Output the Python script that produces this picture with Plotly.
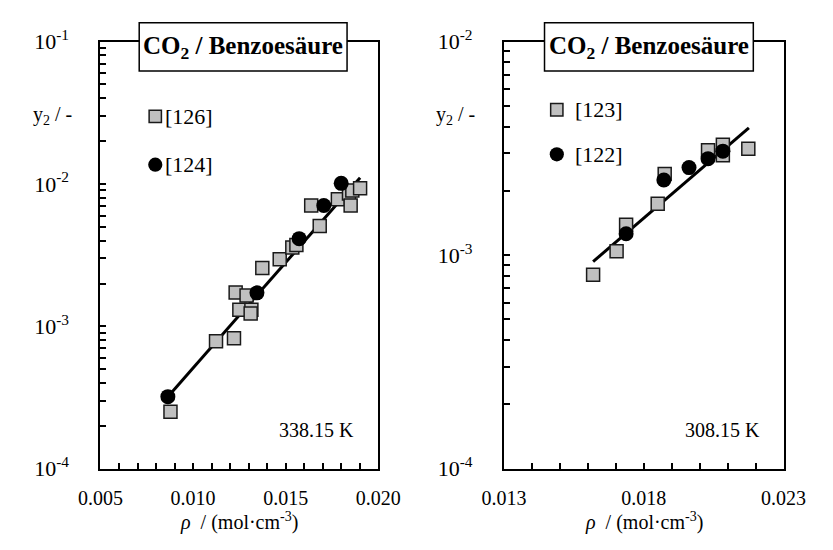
import plotly.graph_objects as go

# ---- 338.15 K ----
rho_126 = [0.00878, 0.01124, 0.01221, 0.01230, 0.01289, 0.01250, 0.01315, 0.01311,
           0.01374, 0.01468, 0.01536, 0.01558, 0.01684, 0.01638, 0.01782, 0.01842,
           0.01860, 0.01902, 0.01851]
y2_126 = [2.52e-4, 7.86e-4, 8.27e-4, 1.73e-3, 1.65e-3, 1.31e-3, 1.31e-3, 1.23e-3,
          2.57e-3, 2.96e-3, 3.58e-3, 3.73e-3, 5.07e-3, 7.06e-3, 7.82e-3, 8.57e-3,
          9.00e-3, 9.35e-3, 7.06e-3]
rho_124 = [0.00864, 0.01345, 0.01573, 0.01706, 0.01800]
y2_124 = [3.21e-4, 1.72e-3, 4.13e-3, 7.06e-3, 1.01e-2]
fit1_rho = [0.00864, 0.01902]
fit1_y2 = [3.21e-4, 1.107e-2]

# ---- 308.15 K ----
rho_123 = [0.01619, 0.01703, 0.01737, 0.01850, 0.01875, 0.02030, 0.02083, 0.02083, 0.02174]
y2_123 = [8.09e-4, 1.044e-3, 1.39e-3, 1.74e-3, 2.40e-3, 3.10e-3, 3.29e-3, 2.94e-3, 3.15e-3]
rho_122 = [0.01737, 0.01872, 0.01962, 0.02030, 0.02083]
y2_122 = [1.26e-3, 2.25e-3, 2.57e-3, 2.83e-3, 3.07e-3]
fit2_rho = [0.01619, 0.02176]
fit2_y2 = [9.33e-4, 3.94e-3]

x1_ticks = [0.005, 0.010, 0.015, 0.020]
x1_labels = ["0.005", "0.010", "0.015", "0.020"]
x2_ticks = [0.013, 0.018, 0.023]
x2_labels = ["0.013", "0.018", "0.023"]
y1_ticks = [1e-4, 1e-3, 1e-2, 1e-1]
y1_labels = ["10<sup>-4</sup>", "10<sup>-3</sup>", "10<sup>-2</sup>", "10<sup>-1</sup>"]
y2_ticks = [1e-4, 1e-3, 1e-2]
y2_labels = ["10<sup>-4</sup>", "10<sup>-3</sup>", "10<sup>-2</sup>"]

title_text = "<b>CO<sub>2</sub> / Benzoesäure</b>"
xtitle_text = "<i>ρ</i>  / (mol·cm<sup>-3</sup>)"
legend1 = ["[126]", "[124]"]
legend2 = ["[123]", "[122]"]
temp1 = "338.15 K"
temp2 = "308.15 K"

FONT = "Liberation Serif, Times New Roman, serif"
GRAY = "#c0c0c0"
EDGE = "#1a1a1a"

W, H = 833, 550
dom1 = [82 / W, 376 / W]
dom2 = [509 / W, 805 / W]
ydom = [1 - 478 / H, 1 - 27 / H]


def minor_log(lo, hi):
    vals = []
    for e in range(lo, hi):
        for k in range(2, 10):
            vals.append(k * 10.0 ** e)
    return vals


square = dict(symbol="square", size=13, color=GRAY, line=dict(color=EDGE, width=1.5))
circle = dict(symbol="circle", size=15, color="black", line=dict(color="black", width=0))

fig = go.Figure()

fig.add_trace(go.Scatter(x=fit1_rho, y=fit1_y2, mode="lines",
                         line=dict(color="black", width=3), xaxis="x", yaxis="y"))
fig.add_trace(go.Scatter(x=rho_126, y=y2_126, mode="markers", marker=square,
                         xaxis="x", yaxis="y"))
fig.add_trace(go.Scatter(x=rho_124, y=y2_124, mode="markers", marker=circle,
                         xaxis="x", yaxis="y"))

fig.add_trace(go.Scatter(x=fit2_rho, y=fit2_y2, mode="lines",
                         line=dict(color="black", width=3), xaxis="x2", yaxis="y2"))
fig.add_trace(go.Scatter(x=rho_123, y=y2_123, mode="markers", marker=square,
                         xaxis="x2", yaxis="y2"))
fig.add_trace(go.Scatter(x=rho_122, y=y2_122, mode="markers", marker=circle,
                         xaxis="x2", yaxis="y2"))

axis_common = dict(showgrid=False, zeroline=False, showline=True, linecolor="black",
                   linewidth=2, mirror=True, ticks="inside", ticklen=6, tickwidth=1.5,
                   tickcolor="black")
xfont = dict(family=FONT, size=20, color="black")
yfont = dict(family=FONT, size=22, color="black")
minor_style = dict(ticks="inside", ticklen=6, tickwidth=1.5, tickcolor="black")

fig.update_layout(
    width=W, height=H, margin=dict(l=0, r=0, t=0, b=0),
    paper_bgcolor="white", plot_bgcolor="white", showlegend=False,
    font=dict(family=FONT, color="black"),
    xaxis=dict(domain=dom1, range=[0.005, 0.020], anchor="y", tickmode="array",
               tickvals=x1_ticks, ticktext=x1_labels, ticklabelstandoff=10,
               tickfont=xfont,
               minor=dict(dtick=0.001, tick0=0.005, **minor_style),
               **axis_common),
    yaxis=dict(domain=ydom, type="log", range=[-4, -1], anchor="x", tickmode="array",
               tickvals=y1_ticks, ticktext=y1_labels, ticklabelstandoff=25,
               tickfont=yfont,
               minor=dict(tickvals=minor_log(-4, -1), **minor_style),
               **axis_common),
    xaxis2=dict(domain=dom2, range=[0.013, 0.023], anchor="y2", tickmode="array",
                tickvals=x2_ticks, ticktext=x2_labels, ticklabelstandoff=10,
                tickfont=xfont,
                minor=dict(dtick=0.001, tick0=0.013, **minor_style),
                **axis_common),
    yaxis2=dict(domain=ydom, type="log", range=[-4, -2], anchor="x2", tickmode="array",
                tickvals=y2_ticks, ticktext=y2_labels, ticklabelstandoff=25,
                tickfont=yfont,
                minor=dict(tickvals=minor_log(-4, -2), **minor_style),
                **axis_common),
)

shapes = []
annotations = []


def px_x(p):
    return p / W


def px_y(p):
    return 1 - p / H


# Boxed titles sitting across the top frame line
for (x0, x1) in [(123, 343), (552, 773)]:
    shapes.append(dict(type="rect", xref="paper", yref="paper",
                       x0=px_x(x0), x1=px_x(x1), y0=px_y(58), y1=px_y(7),
                       fillcolor="white", line=dict(color="black", width=1.5),
                       layer="above"))
    annotations.append(dict(text=title_text, xref="paper", yref="paper",
                            x=px_x((x0 + x1) / 2), y=px_y(33), showarrow=False,
                            xanchor="center", yanchor="middle",
                            font=dict(family=FONT, size=25, color="black")))

# y-axis labels
for xr in [31, 458]:
    annotations.append(dict(text="y<sub>2</sub> / -", xref="paper", yref="paper",
                            x=px_x(xr), y=px_y(105), showarrow=False,
                            xanchor="center", yanchor="middle",
                            font=dict(family=FONT, size=20, color="black")))

# x-axis titles
for xc in [229, 657]:
    annotations.append(dict(text=xtitle_text, xref="paper", yref="paper",
                            x=px_x(xc), y=px_y(534), showarrow=False,
                            xanchor="center", yanchor="middle",
                            font=dict(family=FONT, size=20, color="black")))

# Key: square and circle symbols with reference numbers
for (mx, ys, labels) in [(140, (106, 157), legend1), (565, (99, 146), legend2)]:
    shapes.append(dict(type="rect", xref="paper", yref="paper",
                       x0=px_x(mx - 6.5), x1=px_x(mx + 6.5),
                       y0=px_y(ys[0] + 6.5), y1=px_y(ys[0] - 6.5),
                       fillcolor=GRAY, line=dict(color=EDGE, width=1.5)))
    shapes.append(dict(type="circle", xref="paper", yref="paper",
                       x0=px_x(mx - 7.5), x1=px_x(mx + 7.5),
                       y0=px_y(ys[1] + 7.5), y1=px_y(ys[1] - 7.5),
                       fillcolor="black", line=dict(color="black", width=0)))
    for yy, lab in zip(ys, labels):
        annotations.append(dict(text=lab, xref="paper", yref="paper",
                                x=px_x(mx + (8 if mx < 400 else 17)), y=px_y(yy),
                                showarrow=False, xanchor="left", yanchor="middle",
                                font=dict(family=FONT, size=22, color="black")))

# Temperatures
for (xr, t) in [(352, temp1), (782, temp2)]:
    annotations.append(dict(text=t, xref="paper", yref="paper",
                            x=px_x(xr), y=px_y(437), showarrow=False,
                            xanchor="right", yanchor="middle",
                            font=dict(family=FONT, size=20, color="black")))

fig.update_layout(shapes=shapes, annotations=annotations)

fig.write_html("out.html")
